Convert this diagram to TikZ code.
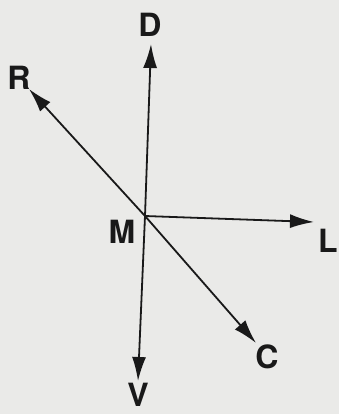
\documentclass[tikz,border=0pt]{standalone}
\usepackage{fontspec}
\setmainfont{TeX Gyre Heros}
\usepackage{tikz}
\usetikzlibrary{
  arrows.meta,
  positioning
}
\definecolor{paper}{RGB}{234,234,232}
\definecolor{ink}{RGB}{25,25,25}
\tikzset{>={Latex[length=24pt,width=14pt]}}
\tikzset{font=\bfseries\fontsize{32}{32}\selectfont}
\tikzset{vec/.style={->, line width=1.8pt, draw=ink},
  lbl/.style={text=ink, inner sep=0pt}}

\begin{document}
\begin{tikzpicture}[x=1pt, y=-1pt]
  \fill[paper] (0,0) rectangle (339,414);
  \useasboundingbox (0,0) rectangle (339,414);
  % the origin and the arrow tips
  \coordinate (m) at (145,216);
  \coordinate (d) at (151,44);
  \coordinate (r) at (29,89);
  \coordinate (l) at (314,222);
  \coordinate (c) at (256,343);
  \coordinate (v) at (138,381);
  \draw[vec] (m) -- (d);
  \draw[vec] (m) -- (r);
  \draw[vec] (m) -- (l);
  \draw[vec] (m) -- (c);
  \draw[vec] (m) -- (v);
  % labels
  \node[lbl] (D) at (150,25) {D};
  \node[lbl] (R) at (19,78) {R};
  \node[lbl] (M) at (122,232) {M};
  \node[lbl] (L) at (328,241) {L};
  \node[lbl] (C) at (267,357) {C};
  \node[lbl] (V) at (138,395) {V};
\end{tikzpicture}
\end{document}
